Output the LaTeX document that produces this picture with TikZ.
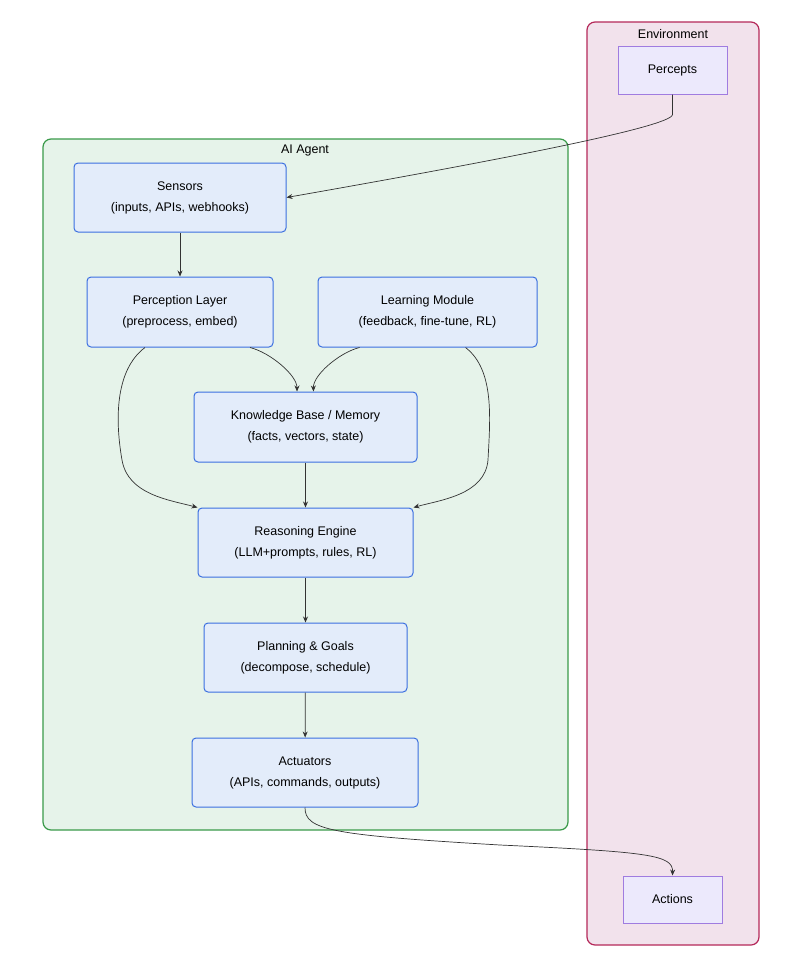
\documentclass[tikz,border=0pt]{standalone}
\usepackage{fontspec}
\setmainfont{Liberation Sans}
\usetikzlibrary{arrows.meta}
\definecolor{nfill}{HTML}{E3ECFA}
\definecolor{nline}{HTML}{3B6FE0}
\definecolor{pfill}{HTML}{ECE9FC}
\definecolor{pline}{HTML}{A07CE0}
\definecolor{efill}{HTML}{F2E2EC}
\definecolor{eline}{HTML}{B5295A}
\definecolor{afill}{HTML}{E6F3EA}
\definecolor{aline}{HTML}{3A9A4A}
\begin{document}
\begin{tikzpicture}[x=1pt,y=-1pt,
 box/.style={draw=nline,fill=nfill,line width=1pt,rounded corners=4pt,align=center,font=\fontsize{12.5}{21}\selectfont},
 pbox/.style={draw=pline,fill=pfill,line width=1pt,align=center,font=\fontsize{12.5}{16}\selectfont},
 arr/.style={-{Stealth[length=6pt,width=5pt]},line width=0.7pt,draw=black!80}]
\fill[white] (0,0) rectangle (791,962);
\useasboundingbox (0,0) rectangle (791,962);
\draw[fill=efill,draw=eline,line width=1.2pt,rounded corners=8pt] (587,22) rectangle (759,945);
\node[font=\fontsize{12.5}{15}\selectfont] (envt) at (673,34) {Environment};
\draw[fill=afill,draw=aline,line width=1.2pt,rounded corners=8pt] (43,139) rectangle (568,830);
\node[font=\fontsize{12.5}{15}\selectfont] (agt) at (305,150) {AI Agent};
\node[pbox,minimum width=109pt,minimum height=48pt] (perc) at (672.5,70) {Percepts};
\node[pbox,minimum width=99pt,minimum height=47pt] (act) at (672.5,899.5) {Actions};
\node[box,minimum width=212pt,minimum height=69pt] (sen) at (180,197.5) {Sensors\\(inputs, APIs, webhooks)};
\node[box,minimum width=186pt,minimum height=70pt] (pl) at (180,312) {Perception Layer\\(preprocess, embed)};
\node[box,minimum width=219pt,minimum height=70pt] (lm) at (427.5,312) {Learning Module\\(feedback, fine-tune, RL)};
\node[box,minimum width=223pt,minimum height=70pt] (kb) at (305.5,427) {Knowledge Base / Memory\\(facts, vectors, state)};
\node[box,minimum width=215pt,minimum height=69pt] (re) at (305.5,542.5) {Reasoning Engine\\(LLM+prompts, rules, RL)};
\node[box,minimum width=203pt,minimum height=69pt] (pg) at (305.5,657.5) {Planning \& Goals\\(decompose, schedule)};
\node[box,minimum width=226pt,minimum height=69pt] (ac) at (305,772.5) {Actuators\\(APIs, commands, outputs)};
\draw[arr] (perc.south) -- ++(0,20) .. controls ++(0,12) and (500,160) .. (sen.east);
\draw[arr] (sen) -- (pl);
\draw[arr] ([xshift=70pt]pl.south) .. controls ++(20,5) and (297,375) .. ([xshift=-8.5pt]kb.north);
\draw[arr] ([xshift=-68pt]lm.south) .. controls ++(-20,5) and (313,375) .. ([xshift=8pt]kb.north);
\draw[arr] ([xshift=-35pt]pl.south) .. controls (115,370) and (115,420) .. (122,460) .. controls (128,495) and (170,500) .. (re.north west);
\draw[arr] ([xshift=38pt]lm.south) .. controls (495,370) and (490,420) .. (488,460) .. controls (485,495) and (440,500) .. (re.north east);
\draw[arr] (kb) -- (re);
\draw[arr] (re) -- (pg);
\draw[arr] (pg) -- (ac);
\draw[arr] (ac.south) .. controls (305,830) and (330,835) .. (500,845) .. controls (650,852) and (673,855) .. (act.north);
\end{tikzpicture}
\end{document}
